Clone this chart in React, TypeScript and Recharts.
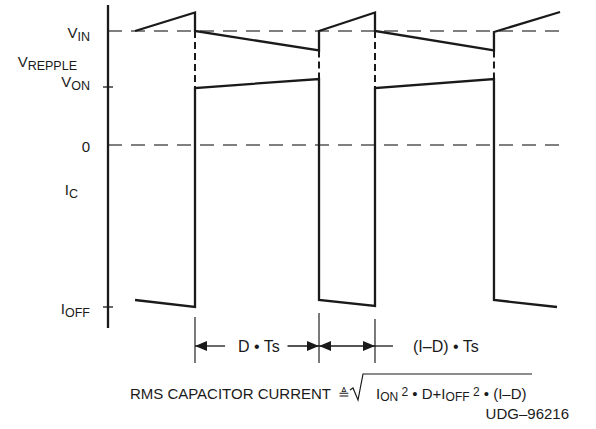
import { ComposedChart, Line, XAxis, YAxis, ReferenceLine } from 'recharts';

// time is in switching periods (Ts = 1, t = 0 at the turn-on edge),
// level is in arbitrary units with 0 = zero capacitor current
const voltageTime = [-0.333, 0, 0, 0.689, 0.689, 1, 1, 1.661, 1.661, 2.028];
const voltageLevel = [11.4, 13.25, 11.4, 9.45, 11.4, 13.25, 11.4, 9.45, 11.3, 13.3];

const currentTime = [-0.333, 0, 0, 0.689, 0.689, 1, 1, 1.661, 1.661, 2.011];
const currentLevel = [-15.5, -16.2, 5.7, 6.6, -15.5, -16.1, 5.7, 6.6, -15.5, -16.2];

// dashed jumps between the ripple and the on-current
const jumpTime = [0, 0.689, 1, 1.661];
const jumpTop = [11.4, 9.45, 11.4, 9.45];
const jumpBottom = [5.7, 6.6, 5.7, 6.6];

const dashedLevels = [11.4, 0];

const axisTicks = [11.4, 8.0, 5.8, 0, -4.7, -16.2];
const axisLabels = [['V', 'IN'], ['V', 'REPPLE'], ['V', 'ON'], ['0', ''], ['I', 'C'], ['I', 'OFF']];

// D • Ts and (I–D) • Ts dimension marks
const markTime = [0, 0.689, 1];
const markTop = [-17.2, -16.8, -17.4];
const markBottom = -21.8;
const arrowLevel = -20.1;
const arrowSpans = [
  [0, 0.167],
  [0.514, 0.689],
  [0.689, 1],
  [1, 1.1],
];
const arrowHeads = [
  [true, false],
  [false, true],
  [true, true],
  [false, false],
];

const X_DOMAIN = [-0.4833, 2.0556];
const Y_DOMAIN = [-18.3, 14];

// label styling
const labelRight = [18, 31, 18, 18, 30, 18];
const labelDy = [7, 2, 0, 7, 3, 7];
const tickMark = [false, false, true, false, false, true];

const FONT = '"Liberation Sans", Arial, sans-serif';
const INK = '#1a1a1a';

const zip = (ts: number[], vs: number[]) => ts.map((t, i) => ({ t, v: vs[i] }));
const voltageData = zip(voltageTime, voltageLevel);
const currentData = zip(currentTime, currentLevel);
const jumpData = jumpTime.flatMap((t, i) => [
  { t, v: jumpTop[i] },
  { t, v: jumpBottom[i] },
  { t, v: null },
]);

function AxisTick(props: any) {
  const { x, y, payload } = props;
  const i = axisTicks.indexOf(payload.value);
  if (i < 0) return null;
  const [main, sub] = axisLabels[i];
  return (
    <g>
      {tickMark[i] && <line x1={x - 5} x2={x + 5} y1={y} y2={y} stroke={INK} strokeWidth={1.3} />}
      <text x={x - labelRight[i]} y={y + labelDy[i]} textAnchor="end" fontSize={15} fontFamily={FONT} fill={INK}>
        {main}
        {sub && (
          <tspan fontSize={12.5} dy={3}>
            {sub}
          </tspan>
        )}
      </text>
    </g>
  );
}

const arrowShape = (start: boolean, end: boolean) => (p: any) => {
  const { x1, y1, x2 } = p;
  const y = y1;
  return (
    <g>
      <line x1={x1} y1={y} x2={x2} y2={y} stroke={INK} strokeWidth={1.3} />
      {start && <polygon points={`${x1},${y} ${x1 + 12},${y - 5} ${x1 + 12},${y + 5}`} fill={INK} />}
      {end && <polygon points={`${x2},${y} ${x2 - 12},${y - 5} ${x2 - 12},${y + 5}`} fill={INK} />}
    </g>
  );
};

export default function App() {
  return (
    <div style={{ position: 'absolute', left: 0, top: 0, width: 596, height: 429, background: '#fff' }}>
      <ComposedChart width={596} height={429} margin={{ top: 5, right: 31, bottom: 101, left: 0 }}>
        <XAxis type="number" dataKey="t" domain={X_DOMAIN} allowDataOverflow hide />
        <YAxis
          type="number"
          domain={Y_DOMAIN}
          allowDataOverflow
          width={108}
          ticks={axisTicks}
          interval={0}
          tickSize={0}
          tickMargin={0}
          tickLine={false}
          axisLine={{ stroke: INK, strokeWidth: 2.3 }}
          tick={<AxisTick />}
        />
        {dashedLevels.map((l) => (
          <ReferenceLine key={l} y={l} stroke="#555" strokeWidth={1.3} strokeDasharray="14 9" />
        ))}
        <Line
          data={jumpData}
          dataKey="v"
          type="linear"
          stroke={INK}
          strokeWidth={2}
          strokeDasharray="7 4"
          dot={false}
          activeDot={false}
          isAnimationActive={false}
        />
        <Line
          data={voltageData}
          dataKey="v"
          type="linear"
          stroke={INK}
          strokeWidth={2.3}
          strokeLinejoin="miter"
          dot={false}
          activeDot={false}
          isAnimationActive={false}
        />
        <Line
          data={currentData}
          dataKey="v"
          type="linear"
          stroke={INK}
          strokeWidth={2.3}
          strokeLinejoin="miter"
          dot={false}
          activeDot={false}
          isAnimationActive={false}
        />
        {markTime.map((t, i) => (
          <ReferenceLine
            key={`m${i}`}
            segment={[
              { x: t, y: markTop[i] },
              { x: t, y: markBottom },
            ]}
            stroke="#333"
            strokeWidth={1.3}
            ifOverflow="visible"
          />
        ))}
        {arrowSpans.map(([a, b], i) => (
          <ReferenceLine
            key={`a${i}`}
            segment={[
              { x: a, y: arrowLevel },
              { x: b, y: arrowLevel },
            ]}
            ifOverflow="visible"
            shape={arrowShape(arrowHeads[i][0], arrowHeads[i][1])}
          />
        ))}
      </ComposedChart>
      <svg
        width={596}
        height={429}
        style={{ position: 'absolute', left: 0, top: 0, pointerEvents: 'none' }}
        fontFamily={FONT}
        fill={INK}
      >
        <text x={259} y={352} fontSize={16} textAnchor="middle">
          D • Ts
        </text>
        <text x={413} y={352} fontSize={16}>
          (I–D) • Ts
        </text>
        <text x={331} y={399} fontSize={15} textAnchor="end">
          RMS CAPACITOR CURRENT
        </text>
        <text x={338} y={399} fontSize={14}>
          ≜
        </text>
        <path d="M350 390 L353 388 L358 400 L363 374 L532 374" fill="none" stroke={INK} strokeWidth={1.2} />
        <text x={376} y={399} fontSize={15}>
          I
          <tspan fontSize={12} dy={2}>
            ON
          </tspan>
          <tspan fontSize={12} dy={-5}>
            {' 2'}
          </tspan>
          <tspan dy={3}>{' • D+I'}</tspan>
          <tspan fontSize={12} dy={2}>
            OFF
          </tspan>
          <tspan fontSize={12} dy={-5}>
            {' 2'}
          </tspan>
          <tspan dy={3}>{' • (I–D)'}</tspan>
        </text>
        <text x={569} y={419} fontSize={15} textAnchor="end">
          UDG–96216
        </text>
      </svg>
    </div>
  );
}
